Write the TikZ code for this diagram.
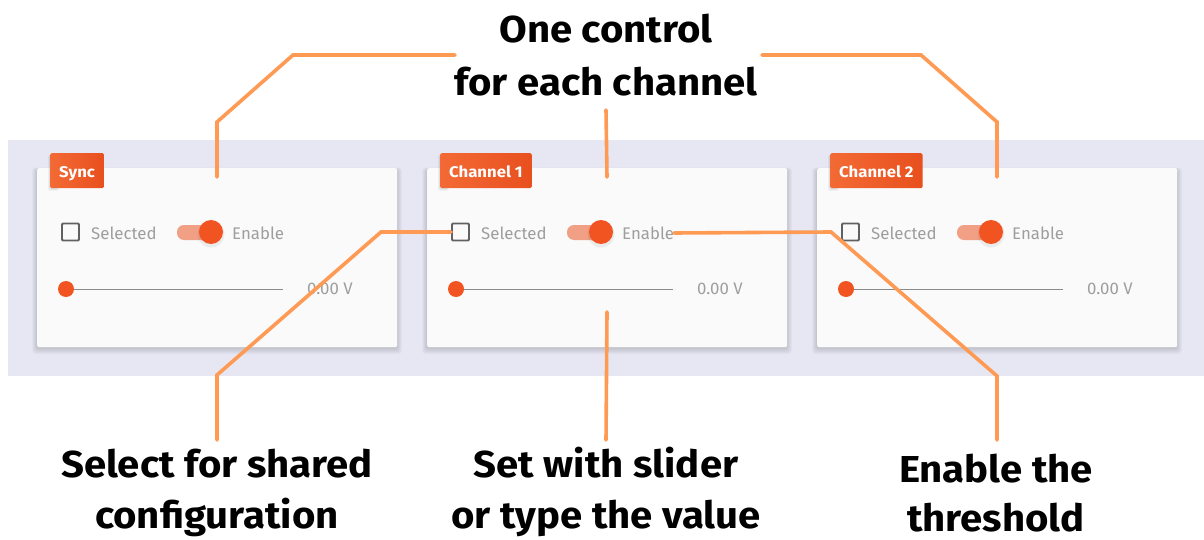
\documentclass[tikz,border=0pt]{standalone}
\usepackage{fontspec}
\setmainfont{Fira Sans}
\newfontfamily\lblfont[FakeStretch=1.07]{Fira Sans}
\newfontfamily\tagfont[FakeStretch=1.08]{Fira Sans}
\definecolor{band}{HTML}{E6E7F3}
\definecolor{cardbg}{HTML}{FAFAFA}
\definecolor{tagL}{HTML}{F36A35}
\definecolor{tagR}{HTML}{E8501E}
\definecolor{thumb}{HTML}{F15321}
\definecolor{track}{HTML}{F2A085}
\definecolor{lead}{HTML}{FF9A55}
\definecolor{ctext}{HTML}{9E9E9E}
\definecolor{boxc}{HTML}{616161}
\definecolor{slid}{HTML}{8A8A8A}
\begin{document}
\begin{tikzpicture}[x=1pt,y=-1pt,
  cardbox/.style={fill=cardbg, rounded corners=2pt},
  tagbox/.style={left color=tagL, right color=tagR, rounded corners=1.5pt, text=white,
    font=\tagfont\fontsize{15.5}{18}\selectfont\bfseries, minimum height=35pt, inner xsep=9pt,
    text height=14pt, text depth=1pt, anchor=north west},
  ctl/.style={text=ctext, font=\fontsize{16.8}{19}\selectfont, inner sep=0pt},
  chk/.style={draw=boxc, line width=1.8pt, rounded corners=1pt, minimum size=17pt, inner sep=0pt},
  leader/.style={draw=lead, line width=3.6pt, line cap=round, line join=miter},
  lbl/.style={font=\lblfont\fontsize{37.5}{44}\selectfont\bfseries, anchor=base, inner sep=0pt}
]
\useasboundingbox (0,0) rectangle (1204,540);
\fill[white] (0,0) rectangle (1204,540);
\fill[band] (8,140) rectangle (1204,376);

\foreach \X/\lab/\n in {37/Sync/s, 427/Channel 1/a, 817/Channel 2/b}{
  % soft shadow
  \foreach \i in {1,...,6}{
    \fill[black, opacity=0.022, rounded corners=3pt]
      (\X-\i*0.8,168-\i*0.4+2) rectangle (\X+360+\i*0.8,347+\i*1.0+1);
  }
  \node[cardbox, minimum width=360pt, minimum height=179pt, anchor=north west, inner sep=0pt] (card\n) at (\X,168) {};
  \foreach \i in {1,...,3}{
    \fill[black, opacity=0.04, rounded corners=2pt]
      (\X+13-\i*0.6,153+\i*0.3+1) rectangle (\X+13+7+\i*0.6,188+\i*1.0);
  }
  \node[tagbox] (tag\n) at (\X+13,153) {\lab};
  \node[chk] (cb\n) at (\X+33.5,232) {};
  \node[ctl, anchor=west] (sel\n) at (\X+54,233) {Selected};
  \fill[track, rounded corners=7pt] (\X+140,225) rectangle (\X+182,240);
  \fill[black, opacity=0.06] (\X+174,234) circle (13.5pt);
  \node[circle, fill=thumb, minimum size=24pt, inner sep=0pt] (th\n) at (\X+174,232) {};
  \node[ctl, anchor=west] (en\n) at (\X+195,233) {Enable};
  \draw[slid, line width=0.9pt] (\X+29,289) -- (\X+246,289);
  \node[circle, fill=thumb, minimum size=16pt, inner sep=0pt] (dot\n) at (\X+29,289) {};
  \node[ctl, anchor=west] (val\n) at (\X+270,289) {0.00 V};
  \coordinate (top\n) at (\X+180,177);
  \coordinate (bot\n) at (\X+180,312);
}

% labels
\node[lbl] (t1) at (606,43) {One control};
\node[lbl] (t2) at (606,96) {for each channel};
\node[lbl] (b1) at (217,477) {Select for shared};
\node[lbl] (b2) at (217,528) {configuration};
\node[lbl] (m1) at (606,477) {Set with slider};
\node[lbl] (m2) at (606,528) {or type the value};
\node[lbl] (r1) at (996,482) {Enable the};
\node[lbl] (r2) at (996,531) {threshold};

% connector bends
\coordinate (tlA) at (217,122);
\coordinate (tlB) at (293,55);
\coordinate (tlC) at (455,55);
\coordinate (trA) at (997,122);
\coordinate (trB) at (921,55);
\coordinate (trC) at (762,55);
\coordinate (tm) at (606,110);
\coordinate (lA) at (381,232);
\coordinate (lB) at (217,375);
\coordinate (lC) at (217,440);
\coordinate (mC) at (606,440);
\coordinate (rA) at (831,232);
\coordinate (rB) at (997,376);
\coordinate (rC) at (997,440);

\draw[leader] (tops) -- (tlA) -- (tlB) -- (tlC);
\draw[leader] (topb) -- (trA) -- (trB) -- (trC);
\draw[leader] (topa) -- (tm);
\draw[leader] (cba.west) -- (lA) -- (lB) -- (lC);
\draw[leader] (bota) -- (mC);
\draw[leader] (ena.east) -- (rA) -- (rB) -- (rC);
\end{tikzpicture}
\end{document}
